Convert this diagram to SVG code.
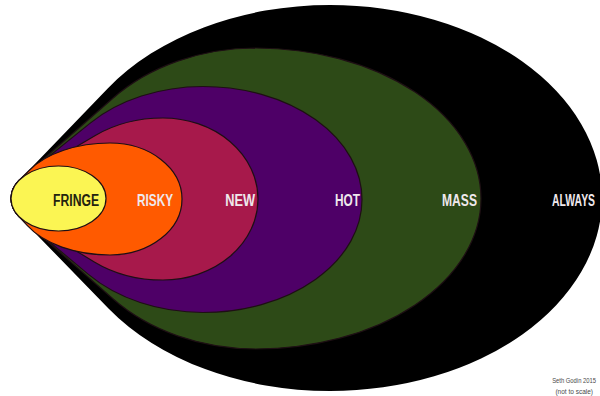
<svg xmlns="http://www.w3.org/2000/svg" width="600" height="396" viewBox="0 0 600 396">
<style>
.ring{stroke:#1e0f14;stroke-width:1.2;stroke-linejoin:round}
.lbl{font-family:"Liberation Sans",Arial,sans-serif;font-weight:bold;font-size:16px;fill:#efe8ec;text-anchor:end}
.credit{font-family:"Liberation Sans",Arial,sans-serif;font-size:6.5px;fill:#4a4a4a;text-anchor:end}
</style>
<rect width="600" height="396" fill="#ffffff"/>
<g id="always">
<path d="M19,216.5 A47.5,32.5 0 0 1 19,180.5 L107.7,88.5 A270,193 0 0 1 330,5 A272,193 0 0 1 602,198 A272,193 0 0 1 330,391 A270,193 0 0 1 108.5,308.4 Z" fill="#000000"/>
<text class="lbl" transform="translate(595,205.5) scale(0.65,1)">ALWAYS</text>
</g>
<g id="mass">
<path class="ring" d="M19,216.5 A47.5,32.5 0 0 1 19,180.5 L112.9,98.2 A192,150.5 0 0 1 256,48 A225,150.5 0 0 1 481,198.5 A225,150.5 0 0 1 256,349 A192,150.5 0 0 1 112.9,298.8 Z" fill="#2d4a17"/>
<text class="lbl" transform="translate(477,205.5) scale(0.757,1)">MASS</text>
</g>
<g id="hot">
<path class="ring" d="M19,216.5 A47.5,32.5 0 0 1 19,180.5 L90.2,123.1 A153,113 0 0 1 203,86.5 A159,113 0 0 1 362,199.5 A159,113 0 0 1 203,312.5 A153,113 0 0 1 88.4,274.4 Z" fill="#4e0067"/>
<text class="lbl" transform="translate(360,205.5) scale(0.74,1)">HOT</text>
</g>
<g id="new">
<path class="ring" d="M19,216.5 A47.5,32.5 0 0 1 19,180.5 L95.3,135.5 A109,81 0 0 1 163,118 A95,81 0 0 1 258,199 A95,81 0 0 1 163,280 A109,81 0 0 1 94.3,261.9 Z" fill="#a7194b"/>
<text class="lbl" transform="translate(255,205.5) scale(0.8,1)">NEW</text>
</g>
<g id="risky">
<path class="ring" d="M19,216.5 A47.5,32.5 0 0 1 19,180.5 L29.4,170.2 A94,56 0 0 1 110,143 A72,56 0 0 1 182,199 A72,56 0 0 1 110,255 A94,56 0 0 1 27.4,225.7 Z" fill="#ff5a00"/>
<text class="lbl" transform="translate(173,205.5) scale(0.736,1)">RISKY</text>
</g>
<g id="fringe">
<ellipse class="ring" cx="58.5" cy="198.5" rx="47.5" ry="32.5" fill="#fbf553"/>
<text class="lbl" transform="translate(99,205.5) scale(0.76,1)" style="fill:#23230f">FRINGE</text>
</g>
<g id="credit">
<text class="credit" transform="translate(596,383) scale(0.9,1)">Seth Godin 2015</text>
<text class="credit" x="593" y="393.5">(not to scale)</text>
</g>
</svg>
